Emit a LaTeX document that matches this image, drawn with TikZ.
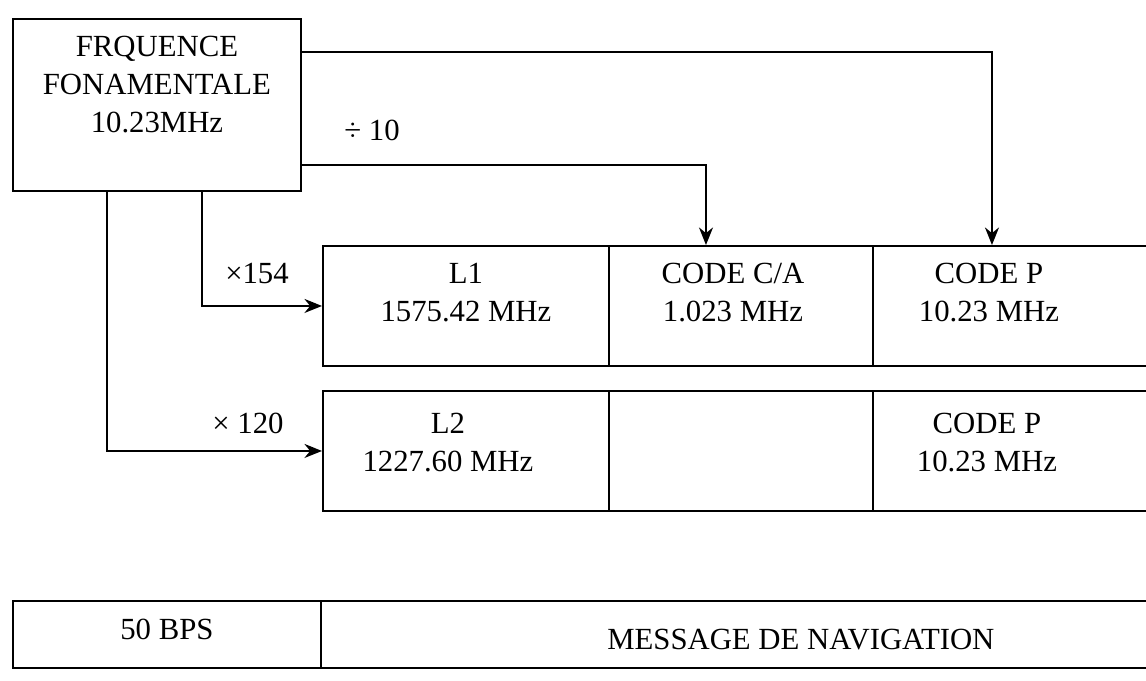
\documentclass[tikz,border=0pt]{standalone}
\usepackage{fontspec}
\setmainfont{Liberation Serif}
\usetikzlibrary{arrows.meta, positioning}

\begin{document}
\begin{tikzpicture}[
  x=0.02cm, y=-0.02cm,
  cell/.style={draw, line width=1.1pt, inner sep=0pt, anchor=north west},
  txt/.style={font=\fontsize{17.5}{21.5}\selectfont, align=center, inner sep=0pt},
  feed/.style={-{Stealth[length=10pt, width=8pt]}, line width=1pt},
  mult/.style={font=\fontsize{17.5}{21}\selectfont, inner sep=0pt},
]
  \useasboundingbox (0,0) rectangle (1146,680);

  %% Source oscillator
  \node[cell, minimum width=5.76cm, minimum height=3.44cm] (src) at (12,18) {};
  \node[txt, anchor=north, below=0.36cm of src.north] (srctxt)
    {FRQUENCE\\FONAMENTALE\\10.23MHz};

  %% ─── L1 row ─────────────────────────────────────────────────────────
  \node[cell, minimum width=5.72cm, minimum height=2.4cm] (l1)  at (322,245) {};
  \node[cell, minimum width=5.28cm, minimum height=2.4cm] (ca1) at (608,245) {};
  \node[cell, minimum width=6cm,    minimum height=2.4cm] (p1)  at (872,245) {};
  \node[txt, anchor=north, below=0.36cm of l1.north] (l1txt) {L1\\1575.42 MHz};
  \node[txt, anchor=north, below=0.36cm of ca1.north, xshift=-0.16cm] (ca1txt)
    {CODE C/A\\1.023 MHz};
  \node[txt, anchor=north, below=0.36cm of p1.north, xshift=-0.68cm] (p1txt)
    {CODE P\\10.23 MHz};

  %% ─── L2 row ─────────────────────────────────────────────────────────
  \node[cell, minimum width=5.72cm, minimum height=2.4cm] (l2) at (322,390) {};
  \node[cell, minimum width=5.28cm, minimum height=2.4cm] (e2) at (608,390) {};
  \node[cell, minimum width=6cm,    minimum height=2.4cm] (p2) at (872,390) {};
  \node[txt, anchor=north, below=0.46cm of l2.north, xshift=-0.36cm] (l2txt)
    {L2\\1227.60 MHz};
  \node[txt, anchor=north, below=0.46cm of p2.north, xshift=-0.72cm] (p2txt)
    {CODE P\\10.23 MHz};

  %% ─── Navigation message ─────────────────────────────────────────────
  \node[cell, minimum width=6.16cm, minimum height=1.34cm] (bps) at (12,600) {};
  \node[cell, minimum width=17cm,   minimum height=1.34cm] (nav) at (320,600) {};
  \node[txt, yshift=0.1cm] (bpstxt) at (bps.center) {50 BPS};
  \node[txt, xshift=1.1cm, yshift=-0.1cm] (navtxt) at (nav.center)
    {MESSAGE DE NAVIGATION};

  %% Feeds from the fundamental frequency
  \draw[feed] ([yshift=-0.68cm]src.north east) -| ([xshift=2.4cm]p1.north west);
  \draw[feed] ([yshift=-2.94cm]src.north east) -| ([xshift=1.96cm]ca1.north west);
  \draw[feed] ([xshift=3.8cm]src.south west) |- (l1.west);
  \draw[feed] ([xshift=1.9cm]src.south west) |- (l2.west);

  \node[mult] (div10) at (372,130) {÷ 10};
  \node[mult] (x154) at (257,273) {×154};
  \node[mult] (x120) at (248,423) {× 120};
\end{tikzpicture}
\end{document}
